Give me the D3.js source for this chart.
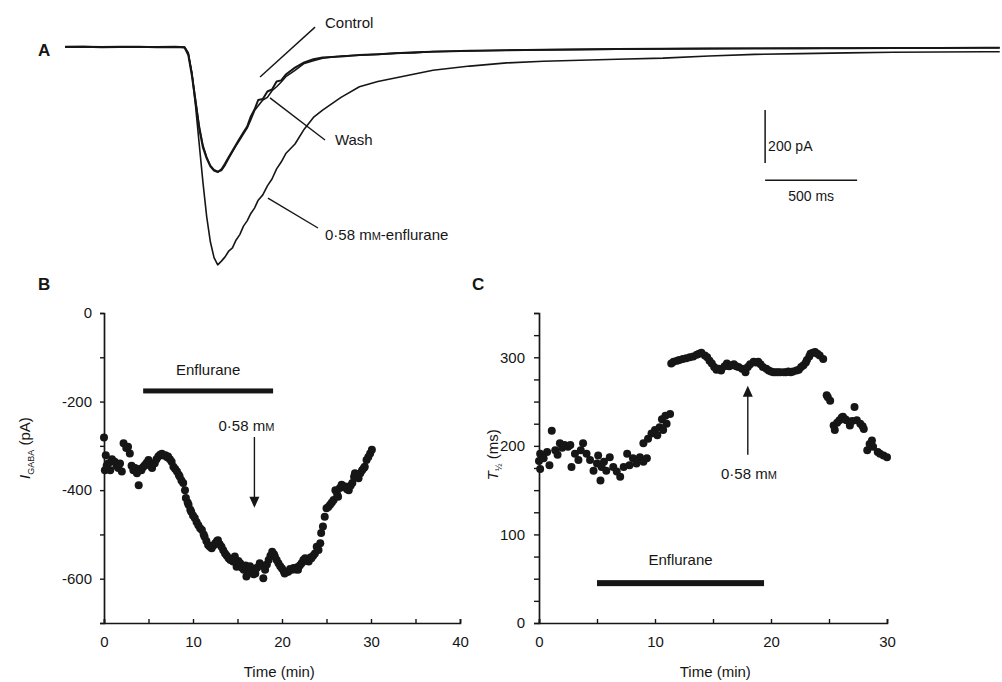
<!DOCTYPE html>
<html>
<head>
<meta charset="utf-8">
<script src="https://cdn.jsdelivr.net/npm/d3@7/dist/d3.min.js"></script>
<style>
  html, body { margin: 0; padding: 0; background: #fff; }
  svg { display: block; font-family: "Liberation Sans", Arial, sans-serif; }
</style>
</head>
<body>
<svg id="fig" width="1002" height="682"></svg>
<script>
/** Panel A: sample times (ms), shared by the three current traces (pA) */
const traceTime = [0,100,200,300,400,500,600,650,670,690,710,730,750,770,790,810,830,850,870,890,910,930,950,970,990,1010,1030,1050,1075,1100,1125,1150,1175,1200,1250,1300,1350,1400,1500,1600,1700,1800,1900,2000,2200,2400,2600,2800,3000,3250,3500,3750,4000,4250,4500,4750,5000,5080];
const traceControl = [0,1,-1,0,1,-1,0,-2,-30,-110,-210,-310,-380,-420,-450,-466,-472,-462,-440,-415,-392,-368,-344,-322,-300,-262,-236,-200,-196,-168,-160,-130,-126,-104,-78,-58,-46,-40,-36,-30,-27,-24,-20,-18,-14,-12,-10,-9,-8,-7,-6,-6,-5,-5,-4,-4,-3,-3];
const traceWash = [2,2,1,2,1,1,2,0,-25,-100,-200,-300,-372,-415,-447,-463,-470,-466,-446,-420,-396,-372,-350,-328,-306,-274,-240,-222,-200,-190,-165,-150,-132,-112,-88,-62,-52,-42,-34,-31,-28,-23,-22,-17,-15,-12,-11,-9,-8,-7,-6,-5,-5,-4,-4,-3,-3,-3];
const traceEnflurane = [0,1,0,-1,0,0,1,-2,-22,-100,-225,-370,-513,-640,-735,-795,-822,-808,-792,-770,-758,-728,-708,-676,-656,-628,-608,-578,-558,-524,-498,-460,-434,-402,-366,-310,-266,-238,-190,-150,-130,-116,-102,-88,-72,-60,-54,-50,-46,-42,-34,-28,-25,-22,-20,-19,-18,-18];

/** Panel B: I_GABA (pA) against time (min) */
const bTime = [0,0.1,0.2,0.3,0.5,0.7,0.9,1.2,1.4,1.6,1.8,2.0,2.2,2.5,2.7,2.9,3.1,3.3,3.5,3.7,3.9,4.0,4.2,4.4,4.6,4.8,5.0,5.2,5.4,5.6,5.7,5.9,6.1,6.3,6.5,6.7,6.9,7.1,7.2,7.4,7.6,7.8,8.0,8.2,8.4,8.5,8.7,8.9,9.1,9.2,9.4,9.5,9.7,9.8,10.0,10.2,10.4,10.6,10.8,11.0,11.2,11.3,11.5,11.7,11.9,12.1,12.3,12.5,12.7,12.8,13.0,13.2,13.4,13.6,13.8,14.0,14.2,14.5,14.7,14.9,15.1,15.3,15.5,15.7,15.9,16.0,16.2,16.4,16.6,16.8,17.0,17.2,17.5,17.7,17.9,18.1,18.3,18.5,18.7,18.9,19.1,19.2,19.4,19.6,19.8,20.0,20.2,20.3,20.5,20.7,20.9,21.1,21.3,21.5,21.7,21.8,22.0,22.2,22.4,22.6,22.8,23.0,23.2,23.3,23.5,23.7,23.9,24.1,24.3,24.4,24.6,24.8,25.0,25.2,25.4,25.6,25.8,26.0,26.2,26.3,26.5,26.7,26.9,27.1,27.3,27.5,27.7,27.9,28.1,28.2,28.4,28.6,28.8,29.0,29.2,29.3,29.5,29.7,29.9,30.1];
const bCurrent = [-281,-355,-321,-345,-339,-355,-330,-336,-345,-350,-340,-358,-294,-305,-302,-317,-345,-355,-350,-362,-389,-352,-355,-348,-343,-338,-332,-345,-350,-340,-339,-330,-324,-320,-318,-322,-321,-326,-324,-330,-336,-347,-352,-358,-365,-369,-378,-384,-400,-418,-428,-433,-444,-449,-457,-463,-472,-479,-486,-490,-500,-505,-515,-524,-528,-531,-525,-520,-515,-513,-522,-528,-536,-543,-548,-554,-558,-561,-550,-573,-560,-565,-575,-580,-570,-595,-585,-572,-577,-590,-588,-575,-565,-570,-599,-580,-568,-558,-548,-539,-545,-550,-558,-565,-572,-577,-583,-588,-585,-584,-578,-580,-576,-579,-574,-580,-570,-565,-558,-554,-560,-561,-552,-554,-548,-543,-528,-535,-520,-497,-482,-460,-441,-438,-433,-428,-422,-400,-410,-415,-395,-388,-392,-392,-398,-400,-390,-384,-370,-362,-368,-373,-362,-355,-350,-347,-332,-325,-317,-309];

/** Panel C: T1/2 (ms) against time (min) */
const cTime = [0,0.1,0.1,0.4,0.7,0.9,1.1,1.4,1.6,1.8,2.0,2.2,2.5,2.7,2.8,3.1,3.4,3.6,3.8,4.1,4.4,4.7,5.0,5.1,5.3,5.4,5.6,5.8,6.1,6.4,6.7,7.0,7.3,7.6,7.8,8.1,8.4,8.7,9.0,9.0,9.3,9.4,9.7,10.0,10.2,10.4,10.6,10.7,10.9,11.0,11.3,11.4,11.6,11.9,12.1,12.4,12.7,13.0,13.3,13.6,13.8,14.0,14.3,14.5,14.7,14.9,15.1,15.3,15.5,15.7,16.0,16.2,16.4,16.6,16.8,17.0,17.2,17.5,17.8,18.0,18.2,18.5,18.7,18.9,19.1,19.3,19.6,19.8,20.0,20.2,20.4,20.6,20.8,21.1,21.3,21.5,21.7,21.9,22.2,22.4,22.6,22.8,23.0,23.1,23.3,23.4,23.6,23.8,24.0,24.2,24.5,24.8,24.9,25.1,25.4,25.5,25.7,25.9,26.1,26.2,26.4,26.5,26.8,27.0,27.2,27.4,27.7,27.9,28.0,28.3,28.5,28.7,28.8,29.2,29.4,29.7,30.0];
const cHalfTime = [183,191,174,186,193,178,217,195,190,203,198,201,199,201,176,191,184,195,203,191,184,172,180,189,161,176,182,172,187,176,171,165,176,191,178,186,180,187,182,203,186,208,214,218,212,221,230,218,234,225,236,293,295,296,297,298,299,300,301,303,304,305,302,300,296,293,289,286,287,285,290,293,290,291,292,290,289,287,283,289,292,295,294,295,292,289,287,285,284,283,283,283,283,283,283,284,283,284,285,286,289,291,294,297,301,304,305,306,304,302,298,257,255,251,223,218,226,229,232,233,230,229,223,228,244,229,225,222,219,195,202,206,199,193,191,189,187];

/** Tick labels and drug application periods */
const bXTicks = [0, 10, 20, 30, 40];
const bYTicks = [0, -200, -400, -600];
const cXTicks = [0, 10, 20, 30];
const cYTicks = [0, 100, 200, 300];
const bEnflurane = [4.4, 19.0];
const cEnflurane = [5.0, 19.4];

const ink = "#161616";
const svg = d3.select("#fig");

/** ---------- Panel A ---------- */
const xA = d3.scaleLinear().domain([0, 500]).range([65, 157]);
const yA = d3.scaleLinear().domain([0, -200]).range([47, 100]);
const gA = svg.append("g");

const lineA = d3.line()
    .x((d, i) => xA(traceTime[i]))
    .y(d => yA(d))
    .curve(d3.curveLinear);

[[traceWash, 1.6], [traceEnflurane, 1.6], [traceControl, 2]].forEach(([s, w]) => {
    gA.append("path")
        .datum(s)
        .attr("d", lineA)
        .attr("fill", "none")
        .attr("stroke", ink)
        .attr("stroke-width", w)
        .attr("stroke-linejoin", "round");
});

const label = (g, x, y, text, opts = {}) => g.append("text")
    .attr("x", x).attr("y", y)
    .attr("font-size", opts.size ?? 15)
    .attr("font-weight", opts.weight ?? "normal")
    .attr("text-anchor", opts.anchor ?? "start")
    .attr("fill", ink)
    .text(text);

const leader = (g, t0, v0, t1, v1) => g.append("line")
    .attr("x1", xA(t0)).attr("y1", yA(v0))
    .attr("x2", xA(t1)).attr("y2", yA(v1))
    .attr("stroke", ink).attr("stroke-width", 1.4);

label(gA, 38, 56, "A", { size: 17, weight: "bold" });

leader(gA, 1060, -113, 1359, 75);
label(gA, xA(1413), yA(72), "Control");
leader(gA, 1114, -192, 1413, -351);
label(gA, xA(1467), yA(-370), "Wash");
leader(gA, 1103, -570, 1375, -683);
const enfText = label(gA, xA(1413), yA(-728), "0·58 m");
enfText.append("tspan").attr("font-size", 11).text("M");
enfText.append("tspan").text("-enflurane");

/** scale bars: 200 pA and 500 ms */
const barT = 3805, barV = -238;
gA.append("line")
    .attr("x1", xA(barT)).attr("x2", xA(barT))
    .attr("y1", yA(barV)).attr("y2", yA(barV - 200))
    .attr("stroke", ink).attr("stroke-width", 1.5);
label(gA, xA(barT) + 3, yA(barV - 150) + 1, "200 pA", { size: 14 });
gA.append("line")
    .attr("x1", xA(barT)).attr("x2", xA(barT + 500))
    .attr("y1", yA(barV - 265)).attr("y2", yA(barV - 265))
    .attr("stroke", ink).attr("stroke-width", 1.5);
label(gA, xA(barT + 250), yA(barV - 265) + 21, "500 ms", { size: 14, anchor: "middle" });

/** ---------- helpers for B and C ---------- */
const styleAxis = g => {
    g.select(".domain").attr("stroke", ink).attr("stroke-width", 1.7);
    g.selectAll(".tick line").attr("stroke", ink).attr("stroke-width", 1.4);
    g.selectAll(".tick text")
        .attr("fill", ink)
        .attr("font-size", 15)
        .attr("font-family", "'Liberation Sans', Arial, sans-serif");
};

const mmLabel = (g, x, y) => {
    const t = label(g, x, y, "0·58 m", { anchor: "middle" });
    t.append("tspan").attr("font-size", 11).text("M");
    return t;
};

const arrow = (g, x, yFrom, yTo) => {
    const dir = yTo > yFrom ? 1 : -1;
    g.append("line")
        .attr("x1", x).attr("x2", x)
        .attr("y1", yFrom).attr("y2", yTo - dir * 9)
        .attr("stroke", ink).attr("stroke-width", 1.4);
    g.append("path")
        .attr("d", `M${x - 5},${yTo - dir * 11}L${x + 5},${yTo - dir * 11}L${x},${yTo}Z`)
        .attr("fill", ink);
};

/** ---------- Panel B ---------- */
const xB = d3.scaleLinear().domain([0, 40]).range([104, 460]);
const yB = d3.scaleLinear().domain([-700, 0]).range([623, 313]);
const gB = svg.append("g");

gB.append("g")
    .attr("transform", `translate(0,${yB(-700)})`)
    .call(d3.axisBottom(xB).tickValues(d3.range(0, 41, 5))
        .tickSize(-4).tickPadding(13)
        .tickFormat(d => bXTicks.includes(d) ? String(d) : ""))
    .call(styleAxis);

gB.append("g")
    .attr("transform", `translate(${xB(0)},0)`)
    .call(d3.axisLeft(yB).tickValues(d3.range(-700, 1, 100))
        .tickSize(4).tickPadding(8)
        .tickFormat(d => bYTicks.includes(d) ? String(d) : ""))
    .call(styleAxis);

gB.selectAll("circle")
    .data(bTime)
    .enter()
    .append("circle")
        .attr("cx", d => xB(d))
        .attr("cy", (d, i) => yB(bCurrent[i]))
        .attr("r", 4)
        .attr("fill", ink);

gB.append("rect")
    .attr("x", xB(bEnflurane[0])).attr("width", xB(bEnflurane[1]) - xB(bEnflurane[0]))
    .attr("y", yB(-176) - 2.5).attr("height", 5)
    .attr("fill", ink);
label(gB, xB(11.7), yB(-140), "Enflurane", { anchor: "middle" });

mmLabel(gB, xB(16), yB(-267));
arrow(gB, xB(16.9), yB(-280), yB(-440));

label(gB, 38, 290, "B", { size: 17, weight: "bold" });
label(gB, xB(19.7), 677, "Time (min)", { anchor: "middle" });

const yLabB = gB.append("text")
    .attr("transform", `translate(30,${yB(-305)}) rotate(-90)`)
    .attr("text-anchor", "middle")
    .attr("font-size", 15)
    .attr("fill", ink);
yLabB.append("tspan").attr("font-style", "italic").text("I");
yLabB.append("tspan").attr("font-size", 9).attr("dy", 4).text("GABA");
yLabB.append("tspan").attr("dy", -4).text(" (pA)");

/** ---------- Panel C ---------- */
const xC = d3.scaleLinear().domain([0, 30]).range([539, 887]);
const yC = d3.scaleLinear().domain([0, 350]).range([623, 313]);
const gC = svg.append("g");

gC.append("g")
    .attr("transform", `translate(0,${yC(0)})`)
    .call(d3.axisBottom(xC).tickValues(d3.range(0, 31, 5))
        .tickSize(-4).tickPadding(13)
        .tickFormat(d => cXTicks.includes(d) ? String(d) : ""))
    .call(styleAxis);

gC.append("g")
    .attr("transform", `translate(${xC(0)},0)`)
    .call(d3.axisLeft(yC).tickValues(d3.range(0, 351, 25))
        .tickSize(5).tickPadding(9)
        .tickFormat(d => cYTicks.includes(d) ? String(d) : ""))
    .call(styleAxis);

gC.selectAll("circle")
    .data(cTime)
    .enter()
    .append("circle")
        .attr("cx", d => xC(d))
        .attr("cy", (d, i) => yC(cHalfTime[i]))
        .attr("r", 4)
        .attr("fill", ink);

gC.append("rect")
    .attr("x", xC(cEnflurane[0])).attr("width", xC(cEnflurane[1]) - xC(cEnflurane[0]))
    .attr("y", yC(45) - 3).attr("height", 6)
    .attr("fill", ink);
label(gC, xC(12.2), yC(65), "Enflurane", { anchor: "middle" });

arrow(gC, xC(18), yC(190), yC(268));
mmLabel(gC, xC(18.1), yC(163));

label(gC, 472, 290, "C", { size: 17, weight: "bold" });
label(gC, xC(15.2), 677, "Time (min)", { anchor: "middle" });

const yLabC = gC.append("text")
    .attr("transform", `translate(498,${yC(190)}) rotate(-90)`)
    .attr("text-anchor", "middle")
    .attr("font-size", 15)
    .attr("fill", ink);
yLabC.append("tspan").attr("font-style", "italic").text("T");
yLabC.append("tspan").attr("font-size", 9).attr("dy", 4).text("½");
yLabC.append("tspan").attr("dy", -4).text(" (ms)");
</script>
</body>
</html>
